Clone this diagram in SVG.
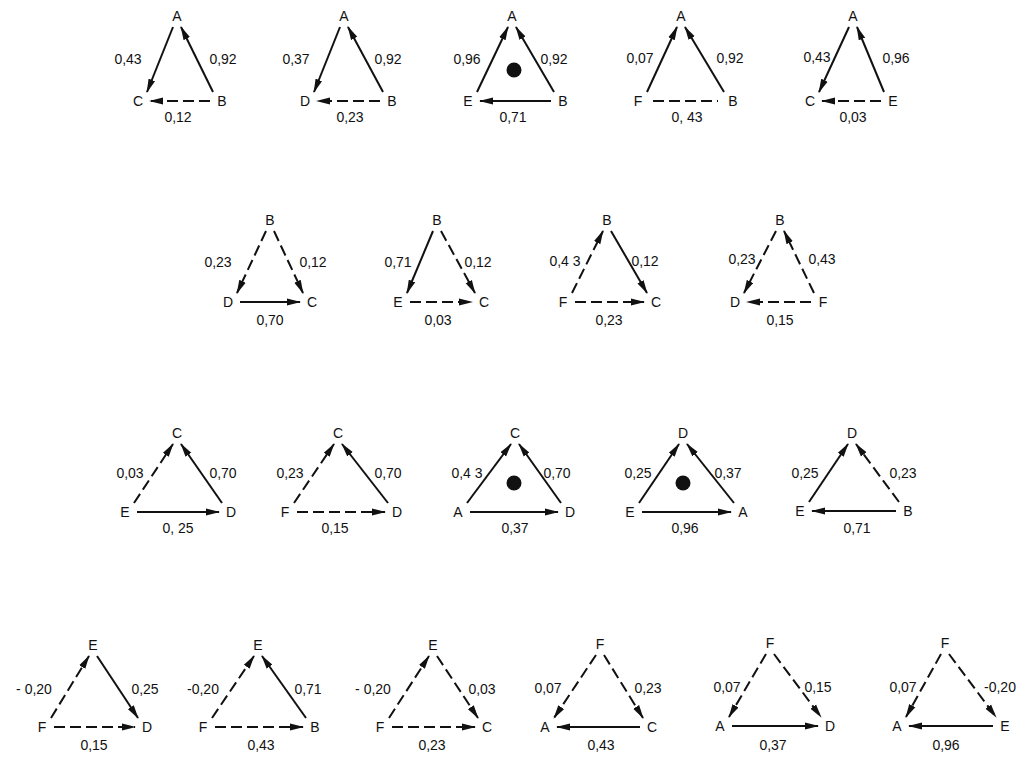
<svg xmlns="http://www.w3.org/2000/svg" width="1025" height="757" viewBox="0 0 1025 757">
<defs>
<marker id="ah" viewBox="0 0 14 8" refX="13" refY="4" markerWidth="14" markerHeight="8" markerUnits="userSpaceOnUse" orient="auto"><path d="M0,0.5 L14,4 L0,7.5 z" fill="#111"/></marker>
</defs>
<style>
text{font-family:"Liberation Sans",Arial,sans-serif;font-size:14px;fill:#111;text-anchor:middle}
line{stroke:#111;stroke-width:2;fill:none}
.d{stroke-dasharray:11 5}
.a{marker-end:url(#ah)}
.dot{fill:#111}
</style>
<rect width="1025" height="757" fill="#fff"/>

<!-- Row 1 -->
<g id="tri1">
<g id="tri1-A"><text x="177" y="21">A</text></g>
<g id="tri1-C"><text x="138" y="106">C</text></g>
<g id="tri1-B"><text x="222" y="106">B</text></g>
<g id="tri1-edges">
<line class="a" x1="173" y1="27" x2="147" y2="92"/>
<line class="a" x1="213" y1="92" x2="181" y2="27"/>
<line class="d a" x1="210" y1="101" x2="150" y2="101"/>
<text x="128" y="64">0,43</text><text x="223" y="64">0,92</text><text x="178" y="122">0,12</text>
</g>
</g>

<g id="tri2">
<g id="tri2-A"><text x="344" y="21">A</text></g>
<g id="tri2-D"><text x="305" y="106">D</text></g>
<g id="tri2-B"><text x="392" y="106">B</text></g>
<g id="tri2-edges">
<line class="a" x1="340" y1="27" x2="314" y2="92"/>
<line class="a" x1="383" y1="92" x2="348" y2="27"/>
<line class="d a" x1="380" y1="101" x2="317" y2="101"/>
<text x="296" y="64">0,37</text><text x="388" y="64">0,92</text><text x="350" y="122">0,23</text>
</g>
</g>

<g id="tri3">
<g id="tri3-A"><text x="512" y="21">A</text></g>
<g id="tri3-E"><text x="468" y="106">E</text></g>
<g id="tri3-B"><text x="563" y="106">B</text></g>
<g id="tri3-edges">
<line class="a" x1="477" y1="92" x2="508" y2="27"/>
<line class="a" x1="554" y1="92" x2="516" y2="27"/>
<line class="a" x1="551" y1="101" x2="480" y2="101"/>
<text x="467" y="64">0,96</text><text x="554" y="64">0,92</text><text x="513" y="122">0,71</text>
</g>
<circle class="dot" cx="514" cy="70" r="7.5"/>
</g>

<g id="tri4">
<g id="tri4-A"><text x="681" y="21">A</text></g>
<g id="tri4-F"><text x="638" y="106">F</text></g>
<g id="tri4-B"><text x="733" y="106">B</text></g>
<g id="tri4-edges">
<line class="a" x1="647" y1="92" x2="677" y2="27"/>
<line class="a" x1="724" y1="92" x2="685" y2="27"/>
<line class="d" x1="653" y1="101" x2="718" y2="101"/>
<text x="640" y="63">0,07</text><text x="730" y="63">0,92</text><text x="687" y="122">0, 43</text>
</g>
</g>

<g id="tri5">
<g id="tri5-A"><text x="853" y="21">A</text></g>
<g id="tri5-C"><text x="810" y="106">C</text></g>
<g id="tri5-E"><text x="893" y="106">E</text></g>
<g id="tri5-edges">
<line class="a" x1="849" y1="27" x2="819" y2="92"/>
<line class="a" x1="884" y1="92" x2="857" y2="27"/>
<line class="d a" x1="881" y1="101" x2="822" y2="101"/>
<text x="817" y="62">0,43</text><text x="896" y="63">0,96</text><text x="853" y="122">0,03</text>
</g>
</g>

<!-- Row 2 -->
<g id="tri6">
<g id="tri6-B"><text x="270" y="225">B</text></g>
<g id="tri6-D"><text x="228" y="307">D</text></g>
<g id="tri6-C"><text x="312" y="307">C</text></g>
<g id="tri6-edges">
<line class="d a" x1="266" y1="231" x2="237" y2="293"/>
<line class="d a" x1="274" y1="231" x2="303" y2="293"/>
<line class="a" x1="240" y1="302" x2="300" y2="302"/>
<text x="218" y="267">0,23</text><text x="313" y="267">0,12</text><text x="270" y="325">0,70</text>
</g>
</g>

<g id="tri7">
<g id="tri7-B"><text x="437" y="225">B</text></g>
<g id="tri7-E"><text x="398" y="307">E</text></g>
<g id="tri7-C"><text x="484" y="307">C</text></g>
<g id="tri7-edges">
<line class="a" x1="433" y1="231" x2="407" y2="293"/>
<line class="d a" x1="441" y1="231" x2="475" y2="293"/>
<line class="d a" x1="410" y1="302" x2="472" y2="302"/>
<text x="398" y="267">0,71</text><text x="478" y="267">0,12</text><text x="438" y="325">0,03</text>
</g>
</g>

<g id="tri8">
<g id="tri8-B"><text x="607" y="225">B</text></g>
<g id="tri8-F"><text x="563" y="307">F</text></g>
<g id="tri8-C"><text x="656" y="307">C</text></g>
<g id="tri8-edges">
<line class="d a" x1="572" y1="293" x2="603" y2="231"/>
<line class="a" x1="611" y1="231" x2="647" y2="293"/>
<line class="d a" x1="575" y1="302" x2="644" y2="302"/>
<text x="565" y="266">0,4 3</text><text x="645" y="266">0,12</text><text x="609" y="325">0,23</text>
</g>
</g>

<g id="tri9">
<g id="tri9-B"><text x="780" y="225">B</text></g>
<g id="tri9-D"><text x="735" y="307">D</text></g>
<g id="tri9-F"><text x="823" y="307">F</text></g>
<g id="tri9-edges">
<line class="d a" x1="776" y1="231" x2="744" y2="293"/>
<line class="d a" x1="814" y1="293" x2="784" y2="231"/>
<line class="d a" x1="811" y1="302" x2="747" y2="302"/>
<text x="742" y="264">0,23</text><text x="822" y="264">0,43</text><text x="780" y="325">0,15</text>
</g>
</g>

<!-- Row 3 -->
<g id="tri11">
<g id="tri11-C"><text x="177" y="438">C</text></g>
<g id="tri11-E"><text x="125" y="517">E</text></g>
<g id="tri11-D"><text x="231" y="517">D</text></g>
<g id="tri11-edges">
<line class="d a" x1="134" y1="503" x2="173" y2="444"/>
<line class="a" x1="222" y1="503" x2="181" y2="444"/>
<line class="a" x1="137" y1="512" x2="219" y2="512"/>
<text x="130" y="478">0,03</text><text x="223" y="478">0,70</text><text x="178" y="533">0, 25</text>
</g>
</g>

<g id="tri12">
<g id="tri12-C"><text x="338" y="438">C</text></g>
<g id="tri12-F"><text x="285" y="517">F</text></g>
<g id="tri12-D"><text x="397" y="517">D</text></g>
<g id="tri12-edges">
<line class="d a" x1="294" y1="503" x2="334" y2="444"/>
<line class="a" x1="388" y1="503" x2="342" y2="444"/>
<line class="d a" x1="297" y1="512" x2="385" y2="512"/>
<text x="290" y="478">0,23</text><text x="388" y="478">0,70</text><text x="335" y="533">0,15</text>
</g>
</g>

<g id="tri13">
<g id="tri13-C"><text x="515" y="438">C</text></g>
<g id="tri13-A"><text x="458" y="517">A</text></g>
<g id="tri13-D"><text x="570" y="517">D</text></g>
<g id="tri13-edges">
<line class="a" x1="467" y1="503" x2="511" y2="444"/>
<line class="a" x1="561" y1="503" x2="519" y2="444"/>
<line class="a" x1="470" y1="512" x2="558" y2="512"/>
<text x="467" y="478">0,4 3</text><text x="557" y="478">0,70</text><text x="515" y="533">0,37</text>
</g>
<circle class="dot" cx="514" cy="483" r="7.5"/>
</g>

<g id="tri14">
<g id="tri14-D"><text x="683" y="438">D</text></g>
<g id="tri14-E"><text x="630" y="517">E</text></g>
<g id="tri14-A"><text x="743" y="517">A</text></g>
<g id="tri14-edges">
<line class="a" x1="639" y1="503" x2="679" y2="444"/>
<line class="a" x1="734" y1="503" x2="687" y2="444"/>
<line class="a" x1="642" y1="512" x2="731" y2="512"/>
<text x="638" y="478">0,25</text><text x="728" y="478">0,37</text><text x="685" y="533">0,96</text>
</g>
<circle class="dot" cx="683" cy="483" r="7.5"/>
</g>

<g id="tri15">
<g id="tri15-D"><text x="852" y="438">D</text></g>
<g id="tri15-E"><text x="800" y="516">E</text></g>
<g id="tri15-B"><text x="908" y="516">B</text></g>
<g id="tri15-edges">
<line class="a" x1="809" y1="502" x2="848" y2="444"/>
<line class="d a" x1="899" y1="502" x2="856" y2="444"/>
<line class="a" x1="896" y1="511" x2="812" y2="511"/>
<text x="805" y="478">0,25</text><text x="903" y="478">0,23</text><text x="857" y="533">0,71</text>
</g>
</g>

<!-- Row 4 -->
<g id="tri16">
<g id="tri16-E"><text x="93" y="650">E</text></g>
<g id="tri16-F"><text x="42" y="732">F</text></g>
<g id="tri16-D"><text x="147" y="732">D</text></g>
<g id="tri16-edges">
<line class="d a" x1="51" y1="718" x2="89" y2="656"/>
<line class="a" x1="97" y1="656" x2="138" y2="718"/>
<line class="d a" x1="54" y1="727" x2="135" y2="727"/>
<text x="34" y="694">- 0,20</text><text x="145" y="694">0,25</text><text x="94" y="750">0,15</text>
</g>
</g>

<g id="tri17">
<g id="tri17-E"><text x="258" y="650">E</text></g>
<g id="tri17-F"><text x="203" y="732">F</text></g>
<g id="tri17-B"><text x="315" y="732">B</text></g>
<g id="tri17-edges">
<line class="d a" x1="212" y1="718" x2="254" y2="656"/>
<line class="a" x1="306" y1="718" x2="262" y2="656"/>
<line class="d a" x1="215" y1="727" x2="303" y2="727"/>
<text x="203" y="694">-0,20</text><text x="308" y="694">0,71</text><text x="261" y="750">0,43</text>
</g>
</g>

<g id="tri18">
<g id="tri18-E"><text x="433" y="650">E</text></g>
<g id="tri18-F"><text x="380" y="732">F</text></g>
<g id="tri18-C"><text x="487" y="732">C</text></g>
<g id="tri18-edges">
<line class="d a" x1="389" y1="718" x2="429" y2="656"/>
<line class="d a" x1="437" y1="656" x2="478" y2="718"/>
<line class="d a" x1="392" y1="727" x2="475" y2="727"/>
<text x="373" y="694">- 0,20</text><text x="482" y="694">0,03</text><text x="432" y="750">0,23</text>
</g>
</g>

<g id="tri19">
<g id="tri19-F"><text x="600" y="649">F</text></g>
<g id="tri19-A"><text x="545" y="732">A</text></g>
<g id="tri19-C"><text x="652" y="732">C</text></g>
<g id="tri19-edges">
<line class="d a" x1="596" y1="655" x2="554" y2="718"/>
<line class="d a" x1="604" y1="655" x2="643" y2="718"/>
<line class="a" x1="640" y1="727" x2="557" y2="727"/>
<text x="548" y="693">0,07</text><text x="648" y="693">0,23</text><text x="601" y="750">0,43</text>
</g>
</g>

<g id="tri20">
<g id="tri20-F"><text x="770" y="648">F</text></g>
<g id="tri20-A"><text x="720" y="731">A</text></g>
<g id="tri20-D"><text x="830" y="731">D</text></g>
<g id="tri20-edges">
<line class="d a" x1="766" y1="654" x2="729" y2="717"/>
<line class="d a" x1="774" y1="654" x2="821" y2="717"/>
<line class="a" x1="732" y1="726" x2="818" y2="726"/>
<text x="727" y="692">0,07</text><text x="818" y="692">0,15</text><text x="773" y="750">0,37</text>
</g>
</g>

<g id="tri21">
<g id="tri21-F"><text x="945" y="648">F</text></g>
<g id="tri21-A"><text x="897" y="731">A</text></g>
<g id="tri21-E"><text x="1005" y="731">E</text></g>
<g id="tri21-edges">
<line class="d a" x1="941" y1="654" x2="906" y2="717"/>
<line class="d a" x1="949" y1="654" x2="996" y2="717"/>
<line class="a" x1="993" y1="726" x2="909" y2="726"/>
<text x="903" y="692">0,07</text><text x="1000" y="692">-0,20</text><text x="946" y="750">0,96</text>
</g>
</g>
</svg>
